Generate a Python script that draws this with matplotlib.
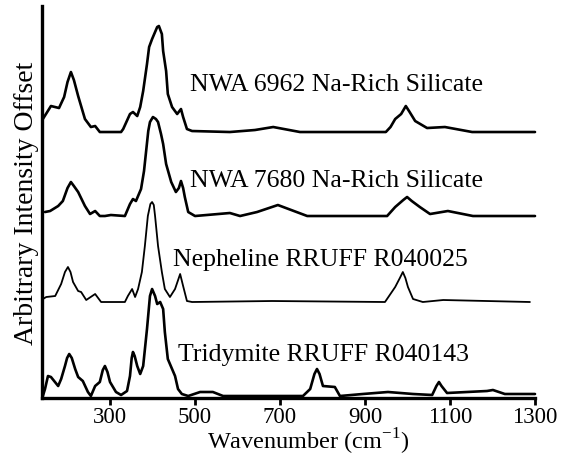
import matplotlib
matplotlib.use("Agg")
import matplotlib.pyplot as plt

plt.rcParams["font.family"] = ["Liberation Serif", "DejaVu Serif"]
plt.rcParams["mathtext.fontset"] = "custom"
plt.rcParams["mathtext.rm"] = "Liberation Serif"

# Raman spectra, wavenumber (cm-1) vs intensity above each trace's baseline
nwa6962_wn = [142, 161, 180, 192, 200, 208, 215, 225, 241, 255, 265, 276, 326, 331,
              347, 354, 364, 371, 378, 387, 392, 399, 401, 406, 411, 415, 422, 425,
              432, 436, 446, 458, 467, 472, 481, 493, 582, 641, 684, 747, 949, 960,
              971, 985, 996, 1005, 1018, 1046, 1088, 1152, 1300]
nwa6962_int = [13, 26, 24, 35, 50, 60, 52, 36, 13, 5, 6, 0, 0, 3,
               18, 20, 16, 25, 41, 68, 85, 93, 95, 100, 105, 106, 98, 81,
               61, 38, 25, 18, 23, 15, 3, 1, 0, 2, 5, 0, 0, 5,
               13, 18, 26, 20, 11, 4, 5, 0, 0]

nwa7680_wn = [147, 159, 178, 189, 200, 208, 215, 225, 241, 253, 265, 276, 288, 302,
              335, 347, 354, 361, 373, 380, 385, 390, 394, 401, 408, 413, 420, 425,
              432, 444, 455, 462, 467, 472, 476, 484, 500, 582, 606, 646, 695, 764,
              952, 971, 990, 999, 1010, 1029, 1053, 1095, 1154, 1300]
nwa7680_int = [4, 5, 10, 15, 28, 34, 30, 24, 10, 2, 5, 0, 0, 1,
               0, 12, 17, 15, 27, 45, 65, 85, 94, 99, 97, 94, 82, 72,
               52, 34, 24, 28, 35, 28, 19, 4, 0, 3, 0, 4, 11, 0,
               0, 9, 16, 19, 15, 9, 2, 5, 0, 0]

nepheline_wn = [142, 150, 171, 185, 194, 201, 207, 213, 225, 232, 244, 265, 279, 335,
                342, 352, 359, 366, 375, 382, 389, 395, 399, 403, 406, 413, 422, 429,
                441, 453, 465, 472, 481, 493, 681, 947, 971, 982, 989, 995, 1001, 1013,
                1036, 1084, 1288]
nepheline_int = [3, 5, 6, 18, 30, 35, 30, 20, 11, 10, 2, 8, 0, 0,
                 6, 13, 5, 13, 30, 56, 86, 98, 100, 97, 86, 56, 30, 13,
                 5, 13, 28, 16, 1, 0, 1, 0, 15, 24, 30, 24, 15, 3,
                 0, 2, 0]

tridymite_wn = [142, 147, 154, 161, 178, 185, 194, 199, 204, 210, 218, 225, 236, 248,
                255, 265, 276, 283, 288, 294, 300, 314, 326, 340, 347, 351, 354, 358,
                364, 371, 378, 387, 394, 399, 406, 411, 418, 425, 429, 436, 446, 453,
                460, 469, 484, 512, 542, 566, 754, 771, 781, 787, 793, 801, 829, 841,
                895, 954, 1013, 1058, 1068, 1074, 1080, 1093, 1187, 1201, 1229, 1300]
tridymite_int = [0, 7, 20, 19, 10, 17, 30, 38, 42, 38, 27, 19, 15, 4,
                 0, 10, 14, 26, 30, 24, 14, 4, 1, 5, 20, 38, 44, 40,
                 30, 22, 30, 67, 100, 107, 100, 92, 94, 87, 64, 37, 27, 20,
                 7, 2, 0, 4, 4, 0, 0, 7, 22, 27, 22, 10, 9, 0,
                 2, 4, 2, 1, 10, 14, 10, 3, 5, 6, 2, 2]

offsets = [266, 182, 96, 2]
labels = ["NWA 6962 Na-Rich Silicate", "NWA 7680 Na-Rich Silicate",
          "Nepheline RRUFF R040025", "Tridymite RRUFF R040143"]

fig = plt.figure(figsize=(5.64, 4.56), dpi=100)
ax = fig.add_axes([0.0745, 0.125, 0.8741, 0.8596])

spectra = [(nwa6962_wn, nwa6962_int, 1.9), (nwa7680_wn, nwa7680_int, 1.9),
           (nepheline_wn, nepheline_int, 1.3), (tridymite_wn, tridymite_int, 1.9)]
for (wn, inten, lw), off in zip(spectra, offsets):
    ax.plot(wn, [v + off for v in inten], color="black", lw=lw,
            solid_joinstyle="round", solid_capstyle="round", clip_on=False)

# labels placed right of the main band
text_pos = [(488, 314), (488, 218), (448, 139), (460, 44)]
for (tx, ty), lab in zip(text_pos, labels):
    ax.text(tx, ty, lab, fontsize=18.5, va="center", ha="left")

ax.set_xlim(140, 1300)
ax.set_ylim(0, 392)
ax.set_xticks([300, 500, 700, 900, 1100, 1300])
ax.set_yticks([])
ax.tick_params(axis="x", direction="out", length=5, width=2, labelsize=16.5, pad=1)
for s in ["top", "right"]:
    ax.spines[s].set_visible(False)
for s in ["left", "bottom"]:
    ax.spines[s].set_linewidth(2.4)
ax.set_xlabel("Wavenumber (cm$^{\\mathrm{-1}}$)", fontsize=17.5)
ax.xaxis.set_label_coords(0.54, -0.07)
ax.set_ylabel("Arbitrary Intensity Offset", fontsize=20, labelpad=2)

fig.savefig("out.png", dpi=100)
